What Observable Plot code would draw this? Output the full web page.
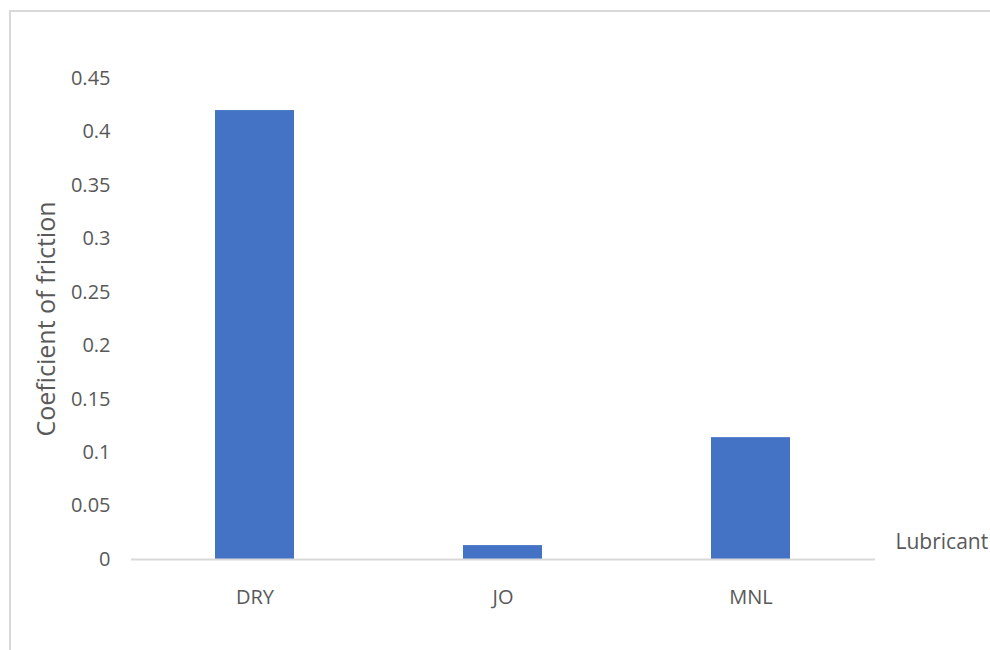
<!DOCTYPE html>
<html>
<head>
<meta charset="utf-8">
<script src="https://cdn.jsdelivr.net/npm/d3@7"></script>
<script src="https://cdn.jsdelivr.net/npm/@observablehq/plot@0.6"></script>
<style>
  html, body { margin: 0; padding: 0; background: #fff; overflow: hidden; }
  #wrap { position: relative; width: 990px; height: 650px; overflow: hidden; }
  #frame { position: absolute; left: 9px; top: 10px; width: 1000px; height: 700px;
           border-left: 2px solid #d9d9d9; border-top: 2px solid #d9d9d9; box-sizing: border-box; }
  #chart { position: absolute; left: 0; top: 0; }
</style>
</head>
<body>
<div id="wrap">
  <div id="frame"></div>
  <div id="chart"></div>
</div>
<script>
// Coefficient of friction measured for each lubricant condition
const lubricants = ["DRY", "JO", "MNL"];
const friction = [0.42, 0.013, 0.114];
const yTicks = [0, 0.05, 0.1, 0.15, 0.2, 0.25, 0.3, 0.35, 0.4, 0.45];

const rows = lubricants.map((name, i) => ({lubricant: name, cof: friction[i]}));

const gray = "#595959";
const font = "'Open Sans', 'Noto Sans', sans-serif";

const chart = Plot.plot({
  width: 990,
  height: 650,
  marginLeft: 131,
  marginRight: 115,
  marginTop: 78,
  marginBottom: 91,
  style: {fontFamily: font, fontSize: "20px", color: gray, background: "transparent"},
  x: {domain: lubricants, paddingInner: 0.68, paddingOuter: 0.34, label: null},
  y: {domain: [0, 0.45], label: null},
  marks: [
    Plot.axisX({tickSize: 0, tickPadding: 30, fill: gray, label: null}),
    Plot.axisY({ticks: yTicks, tickSize: 0, tickPadding: 21, fill: gray, label: null,
                tickFormat: d => d3.format("~g")(d)}),
    Plot.barY(rows, {x: "lubricant", y: "cof", fill: "#4472c4"}),
    Plot.ruleY([0], {stroke: "#d9d9d9", strokeWidth: 2}),
    Plot.text(["Lubricant"], {frameAnchor: "bottom-right", text: d => d, textAnchor: "start",
                              dx: 20, dy: -11, fill: gray, fontSize: 21}),
    Plot.text(["Coeficient of friction"], {frameAnchor: "left", text: d => d, rotate: -90,
                              textAnchor: "middle", dx: -85, fill: gray, fontSize: 25,
                              letterSpacing: "1.5px"})
  ]
});
document.getElementById("chart").appendChild(chart);
</script>
</body>
</html>
